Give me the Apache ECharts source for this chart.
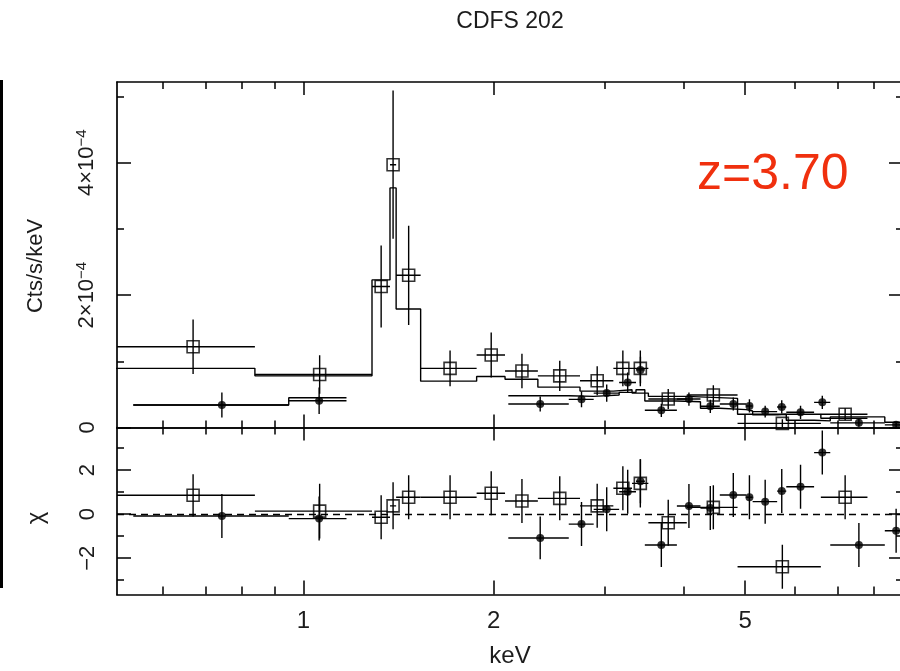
<!DOCTYPE html>
<html><head><meta charset="utf-8">
<script src="https://cdn.jsdelivr.net/npm/echarts@6/dist/echarts.min.js"></script>
<style>html,body{margin:0;padding:0;background:#fff}#c{width:900px;height:671px}</style>
</head><body><div id="c"></div>
<script>
// ---------- DATA (count rates in units of 1e-4 Cts/s/keV) ----------
// Dataset A (open squares)
const aLo   = [0.50, 0.838, 1.284, 1.371, 1.402, 1.533, 1.88, 2.085, 2.35, 2.74, 3.094, 3.312, 3.515, 4.043, 4.865, 6.59];
const aHi   = [0.838, 1.284, 1.371, 1.402, 1.533, 1.88, 2.085, 2.35, 2.74, 3.094, 3.312, 3.515, 4.043, 4.865, 6.59, 7.81];
const aVal  = [1.22, 0.80, 2.13, 3.97, 2.30, 0.894, 1.095, 0.853, 0.78, 0.707, 0.894, 0.894, 0.43, 0.49, 0.063, 0.20];
const aErr  = [0.41, 0.29, 0.62, 1.12, 0.75, 0.27, 0.34, 0.26, 0.23, 0.22, 0.27, 0.27, 0.15, 0.15, 0.06, 0.09];
const aMod  = [0.894, 0.78, 2.23, 3.62, 1.79, 0.70, 0.77, 0.73, 0.61, 0.55, 0.57, 0.52, 0.47, 0.44, 0.20, 0.14];
const aChi  = [0.86, 0.14, -0.14, 0.38, 0.77, 0.77, 0.95, 0.60, 0.72, 0.38, 1.18, 1.40, -0.39, 0.31, -2.39, 0.77];
const aChiE = [0.96, 1.24, 1.0, 1.07, 1.0, 1.0, 1.0, 1.0, 1.0, 1.0, 1.0, 1.1, 1.05, 1.0, 1.0, 1.0];
// Dataset B (filled dots)
const bLo   = [0.538, 0.948, 2.11, 2.63, 2.88, 3.16, 3.36, 3.47, 3.90, 4.25, 4.56, 5.02, 5.14, 5.62, 5.81, 6.43, 6.82, 8.32];
const bHi   = [0.948, 1.17, 2.63, 2.88, 3.16, 3.36, 3.47, 3.90, 4.25, 4.56, 5.02, 5.14, 5.62, 5.81, 6.43, 6.82, 8.32, 9.02];
const bVal  = [0.34, 0.405, 0.355, 0.425, 0.52, 0.68, 0.87, 0.26, 0.43, 0.32, 0.355, 0.325, 0.24, 0.31, 0.23, 0.38, 0.07, 0.04];
const bErr  = [0.19, 0.20, 0.115, 0.12, 0.13, 0.15, 0.20, 0.10, 0.10, 0.10, 0.10, 0.10, 0.09, 0.10, 0.10, 0.10, 0.06, 0.05];
const bMod  = [0.34, 0.45, 0.48, 0.47, 0.49, 0.53, 0.57, 0.40, 0.39, 0.29, 0.27, 0.25, 0.19, 0.20, 0.11, 0.10, 0.16, 0.08];
const bChi  = [-0.08, -0.20, -1.08, -0.45, 0.22, 1.02, 1.50, -1.40, 0.37, 0.28, 0.87, 0.77, 0.57, 1.05, 1.25, 2.80, -1.40, -0.75];
const bChiE = [1.0, 1.0, 0.97, 1.0, 1.0, 1.0, 1.0, 1.0, 1.0, 1.0, 1.0, 1.0, 1.0, 1.0, 1.0, 1.0, 1.0, 1.0];
// Axis ticks
const xMajor = [1, 2, 5];
const xMinor = [0.6, 0.7, 0.8, 0.9, 3, 4, 6, 7, 8, 9];
const yTopMajor = [0, 2, 4];
const yTopMinor = [1, 3, 5];
const yBotMajor = [-2, 0, 2];
const yBotMinor = [-3, -1, 1, 3];
const xRange = [0.507, 8.89];
const yTopRange = [0, 5.22];
const yBotRange = [-3.65, 3.94];

// ---------- BUILD ----------
const FONT = '"Liberation Sans", Arial, Helvetica, sans-serif';
const TXT = '#1c1c1c';
const LW = 1.4;

function centers(lo, hi) { return lo.map((l, i) => (l + hi[i]) / 2); }
const aCen = centers(aLo, aHi), bCen = centers(bLo, bHi);

function stepData(lo, hi, m) {
  const d = [];
  for (let i = 0; i < lo.length; i++) {
    if (i > 0 && Math.abs(lo[i] - hi[i - 1]) > 1e-6) d.push([lo[i], '-']);
    d.push([lo[i], m[i]]);
    d.push([hi[i], m[i]]);
  }
  return d;
}
function errData(cen, lo, hi, v, e) { return cen.map((c, i) => [c, lo[i], hi[i], v[i], e[i]]); }

function errRender(params, api) {
  const x = api.value(0), lo = api.value(1), hi = api.value(2), y = api.value(3), e = api.value(4);
  const pL = api.coord([lo, y]), pR = api.coord([hi, y]);
  const pT = api.coord([x, y + e]), pB = api.coord([x, y - e]);
  const st = { stroke: '#000', lineWidth: LW };
  return { type: 'group', children: [
    { type: 'line', shape: { x1: pL[0], y1: pL[1], x2: pR[0], y2: pR[1] }, style: st },
    { type: 'line', shape: { x1: pT[0], y1: pT[1], x2: pB[0], y2: pB[1] }, style: st }
  ] };
}

function xAx(grid, pos, vals, len, line, label) {
  return {
    type: 'log', logBase: 10, gridIndex: grid, position: pos, min: xRange[0], max: xRange[1],
    axisLine: { show: line, onZero: false, lineStyle: { color: '#000', width: 1.7 } },
    axisTick: { show: true, inside: true, length: len, customValues: vals, lineStyle: { color: '#000', width: 1.5 } },
    axisLabel: { show: !!label, customValues: vals, color: TXT, fontFamily: FONT, fontSize: 24, margin: 15 },
    splitLine: { show: false }, minorTick: { show: false }, minorSplitLine: { show: false },
    name: label ? 'keV' : '', nameLocation: 'middle', nameGap: 50,
    nameTextStyle: { color: TXT, fontFamily: FONT, fontSize: 24 }
  };
}
function yAx(grid, pos, rng, vals, len, line, label, fmt) {
  return {
    type: 'value', gridIndex: grid, position: pos, min: rng[0], max: rng[1],
    axisLine: { show: line, onZero: false, lineStyle: { color: '#000', width: 1.7 } },
    axisTick: { show: true, inside: true, length: len, customValues: vals, lineStyle: { color: '#000', width: 1.5 } },
    axisLabel: { show: !!label, customValues: vals, rotate: 90, color: TXT, fontFamily: FONT, fontSize: 22, margin: 18,
      formatter: fmt, rich: { s: { fontSize: 15, fontFamily: FONT, color: TXT, padding: [0, 0, 10, 0] }, b: { fontSize: 22, fontFamily: FONT, color: TXT } } },
    splitLine: { show: false }
  };
}
const topFmt = v => v === 0 ? '0' : '{b|' + v + '×10}{s|−4}';
const botFmt = v => (v < 0 ? '−' + Math.abs(v) : String(v));

const option = {
  animation: false,
  backgroundColor: '#fff',
  grid: [
    { left: 117, top: 82, width: 786, height: 345.5, containLabel: false, outerBoundsMode: 'none' },
    { left: 117, top: 427.5, width: 786, height: 167, containLabel: false, outerBoundsMode: 'none' }
  ],
  xAxis: [
    xAx(0, 'bottom', xMajor, 13, true, false),
    xAx(0, 'bottom', xMinor, 7, false, false),
    xAx(0, 'top', xMajor, 13, true, false),
    xAx(0, 'top', xMinor, 7, false, false),
    xAx(1, 'bottom', xMajor, 14, true, true),
    xAx(1, 'bottom', xMinor, 8, false, false),
    xAx(1, 'top', xMajor, 13, true, false),
    xAx(1, 'top', xMinor, 7, false, false)
  ],
  yAxis: [
    yAx(0, 'left', yTopRange, yTopMajor, 14, true, true, topFmt),
    yAx(0, 'left', yTopRange, yTopMinor, 7, false, false),
    yAx(0, 'right', yTopRange, yTopMajor, 14, true, false),
    yAx(0, 'right', yTopRange, yTopMinor, 7, false, false),
    yAx(1, 'left', yBotRange, yBotMajor, 14, true, true, botFmt),
    yAx(1, 'left', yBotRange, yBotMinor, 7, false, false),
    yAx(1, 'right', yBotRange, yBotMajor, 14, true, false),
    yAx(1, 'right', yBotRange, yBotMinor, 7, false, false)
  ],
  graphic: [
    { type: 'rect', shape: { x: 0, y: 80, width: 3, height: 508 }, style: { fill: '#000' } },
    { type: 'text', x: 510, y: 22, style: { text: 'CDFS 202', font: '23px ' + FONT, fill: TXT, textAlign: 'center', textVerticalAlign: 'middle' } },
    { type: 'text', x: 36, y: 266, rotation: Math.PI / 2, style: { text: 'Cts/s/keV', font: '22px ' + FONT, fill: TXT, textAlign: 'center', textVerticalAlign: 'middle' } },
    { type: 'text', x: 36, y: 518, rotation: Math.PI / 2, style: { text: 'χ', font: '24px ' + FONT, fill: TXT, textAlign: 'center', textVerticalAlign: 'middle' } },
    { type: 'text', x: 697, y: 175, style: { text: 'z=3.70', font: '50px ' + FONT, fill: '#f0300e', textAlign: 'left', textVerticalAlign: 'middle' } }
  ],
  series: [
    { type: 'line', xAxisIndex: 0, yAxisIndex: 0, data: stepData(aLo, aHi, aMod), showSymbol: false, symbol: 'none',
      lineStyle: { color: '#000', width: LW }, connectNulls: false, clip: true, z: 2 },
    { type: 'line', xAxisIndex: 0, yAxisIndex: 0, data: stepData(bLo, bHi, bMod), showSymbol: false, symbol: 'none',
      lineStyle: { color: '#000', width: LW }, connectNulls: false, clip: true, z: 2 },
    { type: 'custom', xAxisIndex: 0, yAxisIndex: 0, data: errData(aCen, aLo, aHi, aVal, aErr), renderItem: errRender, clip: true, z: 3 },
    { type: 'custom', xAxisIndex: 0, yAxisIndex: 0, data: errData(bCen, bLo, bHi, bVal, bErr), renderItem: errRender, clip: true, z: 3 },
    { type: 'scatter', xAxisIndex: 0, yAxisIndex: 0, data: aCen.map((c, i) => [c, aVal[i]]), symbol: 'rect', symbolSize: 12,
      itemStyle: { color: 'rgba(0,0,0,0)', borderColor: '#000', borderWidth: 1.6 }, clip: true, z: 4 },
    { type: 'scatter', xAxisIndex: 0, yAxisIndex: 0, data: bCen.map((c, i) => [c, bVal[i]]), symbol: 'circle', symbolSize: 8,
      itemStyle: { color: '#000' }, clip: true, z: 4 },
    { type: 'custom', xAxisIndex: 4, yAxisIndex: 4, data: errData(aCen, aLo, aHi, aChi, aChiE), renderItem: errRender, clip: true, z: 3 },
    { type: 'custom', xAxisIndex: 4, yAxisIndex: 4, data: errData(bCen, bLo, bHi, bChi, bChiE), renderItem: errRender, clip: true, z: 3 },
    { type: 'scatter', xAxisIndex: 4, yAxisIndex: 4, data: aCen.map((c, i) => [c, aChi[i]]), symbol: 'rect', symbolSize: 12,
      itemStyle: { color: 'rgba(0,0,0,0)', borderColor: '#000', borderWidth: 1.6 }, clip: true, z: 4,
      markLine: { silent: true, symbol: ['none', 'none'], label: { show: false },
        lineStyle: { color: '#000', width: 1.4, type: [7, 5] }, data: [{ yAxis: 0 }] } },
    { type: 'scatter', xAxisIndex: 4, yAxisIndex: 4, data: bCen.map((c, i) => [c, bChi[i]]), symbol: 'circle', symbolSize: 8,
      itemStyle: { color: '#000' }, clip: true, z: 4 }
  ]
};
const chart = echarts.init(document.getElementById('c'), null, { renderer: 'canvas' });
chart.setOption(option);
</script>
</body></html>
